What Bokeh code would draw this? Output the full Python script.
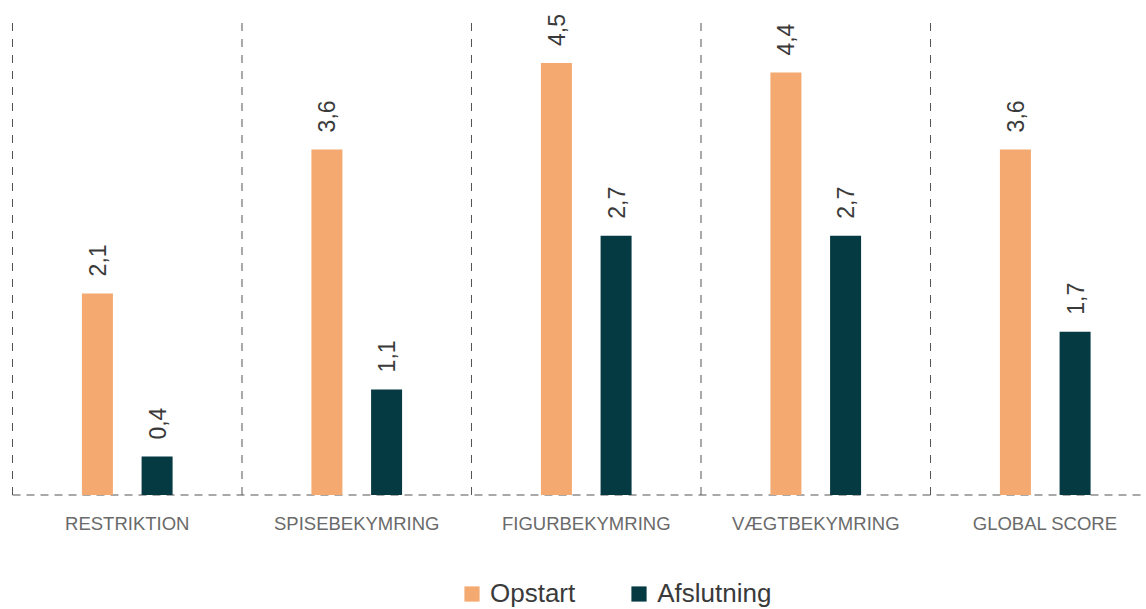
import math
from bokeh.plotting import figure
from bokeh.models import ColumnDataSource, Range1d, Legend, LegendItem
from bokeh.core.properties import value
from bokeh.embed import file_html
from bokeh.resources import INLINE

categories = ["RESTRIKTION", "SPISEBEKYMRING", "FIGURBEKYMRING", "VÆGTBEKYMRING", "GLOBAL SCORE"]
opstart = [2.1, 3.6, 4.5, 4.4, 3.6]
afslutning = [0.4, 1.1, 2.7, 2.7, 1.7]
series_names = ["Opstart", "Afslutning"]

ORANGE = "#F4A970"
TEAL = "#053A43"
FONT = "Liberation Sans"

W, H = 1146, 609
px_per_cat = 229.5
px_per_unit = 96.0
left_pad = 12.0
base_px = 494.5

idx = list(range(len(categories)))
centers = [i + 0.5 for i in idx]
fmt = lambda v: f"{v:.1f}".replace(".", ",")

src = ColumnDataSource(dict(
    cat=categories,
    c=centers,
    x_o=[c - 0.13 for c in centers],
    x_a=[c + 0.13 for c in centers],
    o=opstart,
    a=afslutning,
    lo=[fmt(v) for v in opstart],
    la=[fmt(v) for v in afslutning],
    sep=[float(i) for i in idx],
))

p = figure(width=W, height=H, output_backend="svg", toolbar_location=None,
           x_range=Range1d(-left_pad / px_per_cat, (W - left_pad) / px_per_cat),
           y_range=Range1d(-(H - base_px) / px_per_unit, base_px / px_per_unit),
           x_axis_type=None, y_axis_type=None, min_border=0)
p.outline_line_color = None
p.xgrid.visible = False
p.ygrid.visible = False
p.background_fill_color = "white"

# separators
p.segment(x0="sep", y0=0, x1="sep", y1=5, source=src, line_color="#555555",
          line_width=1, line_dash="8 8")
p.segment(x0=[0], y0=[0], x1=[len(categories)], y1=[0], line_color="#555555",
          line_width=1, line_dash="8 6")

bw = 31 / px_per_cat
r1 = p.vbar(x="x_o", top="o", bottom=0, width=bw, source=src, fill_color=ORANGE, line_color=None)
r2 = p.vbar(x="x_a", top="a", bottom=0, width=bw, source=src, fill_color=TEAL, line_color=None)

for xc, yc, lc in (("x_o", "o", "lo"), ("x_a", "a", "la")):
    p.text(x=xc, y=yc, text=lc, source=src, angle=math.pi / 2,
           text_align="left", text_baseline="middle", y_offset=-17,
           text_font=value(FONT), text_font_size="23px", text_color="#3a3a3a")

p.text(x="c", y=0, text="cat", source=src, text_align="center", text_baseline="middle",
       y_offset=28, text_font=value(FONT), text_font_size="18.5px", text_color="#6a6a6a")

legend = Legend(items=[LegendItem(label=series_names[0], renderers=[r1]),
                       LegendItem(label=series_names[1], renderers=[r2])],
                orientation="horizontal", location=(462, 0),
                glyph_width=19, glyph_height=19, label_standoff=9, spacing=54,
                padding=0, margin=0, border_line_color=None, background_fill_alpha=0,
                label_text_font=FONT, label_text_font_size="26px", label_text_color="#3a3a3a")
p.add_layout(legend, "center")

open("out.html", "w").write(file_html(p, INLINE))
